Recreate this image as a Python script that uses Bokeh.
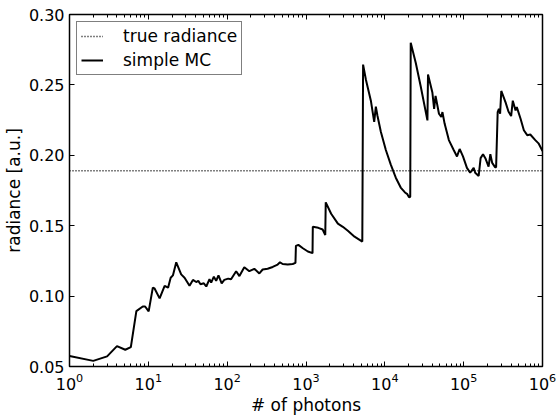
from bokeh.plotting import figure
from bokeh.models import (LogAxis, LinearAxis, FixedTicker, PrintfTickFormatter,
                          Legend, LegendItem, Range1d)
from bokeh.embed import file_html
from bokeh.resources import INLINE

# ---- data ----
photons = [1, 2.0, 3.0, 4.0, 5.1, 6.0, 7.05, 8.5, 9.1, 10.1,
           11.4, 12.0, 13.9, 16.1, 17.8, 19.2, 20.5, 22.6, 26.1, 28.8,
           33.3, 36.8, 40.5, 43, 45.9, 50.6, 54.3, 59.7, 62.7, 67.8,
           72.5, 77.6, 85.2, 92, 103, 112, 130, 143, 165, 191,
           221, 256, 282, 326, 378, 437, 468, 506, 586, 678,
           735, 745, 800, 913, 1056, 1210, 1220, 1432, 1626, 1755,
           1780, 2085, 2537, 2932, 3394, 4128, 5178, 5300, 5746, 6650,
           7330, 7690, 8050, 8900, 10300, 11900, 13770, 15900, 18000, 19300,
           20300, 21000, 21300, 24700, 28500, 34700, 35300, 40100, 42200, 44000,
           48600, 52000, 53800, 57300, 64900, 74700, 82300, 88900, 98000, 110000,
           121000, 134000, 140000, 155000, 164000, 176000, 190000, 207000, 218000, 230000,
           250000, 258000, 270000, 280000, 290000, 300000, 340000, 370000, 400000, 420000,
           455000, 472000, 527000, 580000, 640000, 700000, 810000, 890000, 1000000]
radiance = [0.0575, 0.0540, 0.0572, 0.0645, 0.0619, 0.0638, 0.0893, 0.0926, 0.0926, 0.0891,
            0.1060, 0.1054, 0.0984, 0.1073, 0.1060, 0.1130, 0.1147, 0.1240, 0.1154, 0.1130,
            0.1073, 0.1115, 0.1100, 0.1108, 0.1084, 0.1091, 0.1068, 0.1120, 0.1096, 0.1138,
            0.1108, 0.1147, 0.1091, 0.1115, 0.1124, 0.1120, 0.1177, 0.1142, 0.1205, 0.1177,
            0.1194, 0.1161, 0.1189, 0.1194, 0.1207, 0.1224, 0.1240, 0.1228, 0.1224, 0.1228,
            0.1236, 0.1357, 0.1364, 0.1340, 0.1317, 0.1305, 0.1492, 0.1485, 0.1473, 0.1434,
            0.1666, 0.1585, 0.1515, 0.1492, 0.1464, 0.1422, 0.1387, 0.2644, 0.2539, 0.2388,
            0.2237, 0.2346, 0.2283, 0.2167, 0.2038, 0.1934, 0.1841, 0.1771, 0.1736, 0.1724,
            0.1701, 0.1705, 0.2800, 0.2656, 0.2490, 0.2248, 0.2574, 0.2446, 0.2330, 0.2422,
            0.2295, 0.2272, 0.2307, 0.2225, 0.2108, 0.2038, 0.1992, 0.2045, 0.1992, 0.1911,
            0.1876, 0.1911, 0.1876, 0.1853, 0.1980, 0.2008, 0.1975, 0.1920, 0.2008, 0.1946,
            0.1916, 0.1916, 0.2307, 0.2330, 0.2295, 0.2457, 0.2376, 0.2311, 0.2279, 0.2388,
            0.2318, 0.2342, 0.2260, 0.2178, 0.2143, 0.2148, 0.2108, 0.2085, 0.2031]
assert len(photons) == len(radiance)
true_radiance = 0.189
x_limits = [1, 1e6]
y_limits = [0.05, 0.30]
x_ticks = [1, 10, 100, 1000, 10000, 100000, 1000000]
x_minor_ticks = [m * d for d in [1, 10, 100, 1000, 10000, 100000] for m in range(2, 10)]
y_ticks = [0.05, 0.10, 0.15, 0.20, 0.25, 0.30]

FONT = "DejaVu Sans"

p = figure(width=558, height=417, x_axis_type="log",
           x_range=Range1d(*x_limits), y_range=Range1d(*y_limits),
           output_backend="svg", toolbar_location=None,
           min_border_left=68, min_border_right=16, min_border_top=14,
           min_border_bottom=45)
p.xgrid.visible = False
p.ygrid.visible = False
p.outline_line_color = "black"
p.outline_line_width = 1.5
p.background_fill_color = "white"
p.border_fill_color = "white"

r_true = p.line(x_limits, [true_radiance, true_radiance], line_color="black",
                line_width=1.4, line_dash="1 2")
r_mc = p.line(photons, radiance, line_color="black", line_width=2)


def style(ax, labels=True, minor=True):
    ax.axis_line_color = None
    ax.major_tick_in = 5
    ax.major_tick_out = 0
    ax.minor_tick_in = 3 if minor else 0
    ax.minor_tick_out = 0
    ax.major_tick_line_color = "black"
    ax.major_tick_line_width = 1
    ax.minor_tick_line_color = "black" if minor else None
    ax.major_label_text_font = FONT
    ax.major_label_text_font_size = "16px"
    ax.major_label_text_color = "black"
    ax.axis_label_text_font = FONT
    ax.axis_label_text_font_size = "17px"
    ax.axis_label_text_font_style = "normal"
    ax.axis_label_text_color = "black"
    if not labels:
        ax.major_label_text_font_size = "0px"
        ax.major_label_text_color = None


xb = p.xaxis[0]
xb.ticker = FixedTicker(ticks=x_ticks, minor_ticks=x_minor_ticks)
style(xb)
xb.axis_label = "# of photons"
xb.major_label_standoff = 6
xb.axis_label_standoff = 2

yl = p.yaxis[0]
yl.ticker = FixedTicker(ticks=y_ticks)
yl.formatter = PrintfTickFormatter(format="%.2f")
style(yl, minor=False)
yl.axis_label = "radiance [a.u.]"
yl.major_label_standoff = 5
yl.axis_label_standoff = 2

xt = LogAxis(ticker=FixedTicker(ticks=x_ticks, minor_ticks=x_minor_ticks))
style(xt, labels=False)
p.add_layout(xt, "above")

yr = LinearAxis(ticker=FixedTicker(ticks=y_ticks))
style(yr, labels=False, minor=False)
p.add_layout(yr, "right")

legend = Legend(items=[LegendItem(label="true radiance", renderers=[r_true]),
                       LegendItem(label="simple MC", renderers=[r_mc])],
                location="top_left", margin=7, padding=4, spacing=4,
                glyph_width=22, glyph_height=20, label_standoff=20,
                label_text_font=FONT, label_text_font_size="17px",
                label_text_color="black",
                border_line_color="black", border_line_width=1,
                background_fill_color="white", background_fill_alpha=1)
p.add_layout(legend)

open("out.html", "w").write(file_html(p, INLINE))
